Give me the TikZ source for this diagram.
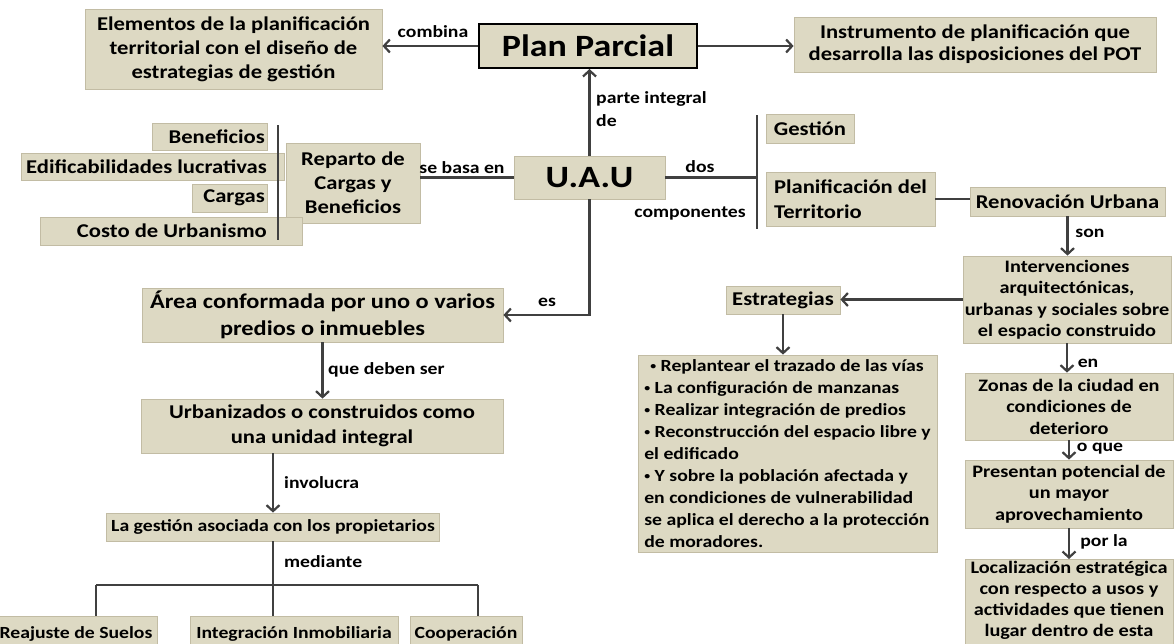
\documentclass[tikz,border=0pt]{standalone}
\usepackage{fontspec}
\setmainfont{Carlito}[FakeStretch=1.16]
\usetikzlibrary{arrows.meta}
\definecolor{boxfill}{HTML}{DDD9C3}
\definecolor{boxline}{HTML}{C2BCA4}
\definecolor{lnk}{HTML}{404040}
\newcommand{\myfs}[2]{\fontsize{#1}{#2}\selectfont}
\newcommand{\mybul}{\raisebox{0.12em}{\scalebox{0.6}{•}}\ }
\begin{document}
\begin{tikzpicture}[x=1pt,y=-1pt,
  box/.style={draw=boxline, fill=boxfill, line width=0.8pt, inner sep=0pt, align=center, text=black, font=\bfseries\myfs{19.5}{24}},
  big/.style={font=\bfseries\myfs{31}{36}},
  rbox/.style={box, font=\bfseries\myfs{17.5}{21.5}},
  bbox/.style={box, font=\bfseries\myfs{17}{21}},
  txt/.style={inner sep=0pt, text=black, align=center, font=\bfseries\myfs{19.5}{24}},
  lbl/.style={inner sep=0pt, text=black, font=\bfseries\myfs{17}{21}},
  conn/.style={draw=lnk, line width=2.2pt},
  arr/.style={conn, -{Straight Barb[length=6pt,width=13pt]}}
]
\useasboundingbox (0,0) rectangle (1176,643);
\fill[white] (0,0) rectangle (1176,643);
\clip (0,0) rectangle (1176,643);

% top row
\node[box, minimum width=297, minimum height=80] (e1) at (233.5,49) {Elementos de la planificación\\territorial con el diseño de\\estrategias de gestión};
\node[box, big, draw=black, line width=2pt, minimum width=218, minimum height=44] (pp) at (588,46) {Plan Parcial};
\node[box, font=\bfseries\myfs{19.5}{22}, minimum width=362, minimum height=55] (ins) at (975,44.5) {Instrumento de planificación que\\desarrolla las disposiciones del POT};
\draw[arr] (pp.west) -- (pp.west -| e1.east);
\node[lbl] (lcomb) at (433,32) {combina};
\draw[arr] (pp.east) -- (pp.east -| ins.west);

% U.A.U
\node[box, big, minimum width=151, minimum height=43] (uau) at (589.5,177.5) {U.A.U};
\draw[arr] (uau.north) -- (uau.north |- pp.south);
\node[lbl, anchor=west] (lpi) at (596,99) {parte integral};
\node[lbl, anchor=west] (lde) at (596,121) {de};

% Reparto and left list
\node[box, minimum width=134, minimum height=80] (rep) at (353,183) {Reparto de\\Cargas y\\Beneficios};
\draw[conn] (uau.west) -- (uau.west -| rep.east);
\node[lbl] (lbasa) at (462,168) {se basa en};
\node[box, minimum width=115, minimum height=27] (ben) at (209.5,136.5) {};
\node[txt, anchor=east] (bentx) at (265,136.5) {Beneficios};
\node[box, minimum width=263, minimum height=27] (edi) at (152.5,166.5) {};
\node[txt, anchor=east] (editx) at (267,166.5) {Edificabilidades lucrativas};
\node[box, minimum width=75, minimum height=28] (car) at (229.5,198) {};
\node[txt, anchor=east] (cartx) at (265,198) {Cargas};
\node[box, minimum width=262, minimum height=28] (cos) at (171,231) {};
\node[txt, anchor=east] (costx) at (267,231) {Costo de Urbanismo};
\coordinate (b1t) at (278,125);
\coordinate (b1b) at (278,240);
\draw[conn] (b1t) -- (b1b);

% dos componentes
\coordinate (b2t) at (757,115);
\coordinate (b2b) at (757,229);
\draw[conn] (uau.east) -- (uau.east -| b2t);
\draw[conn] (b2t) -- (b2b);
\node[lbl] (ldos) at (700,167) {dos};
\node[lbl] (lcomp) at (690,213) {componentes};
\node[box, minimum width=88, minimum height=29] (gest) at (810,128.5) {Gestión};
\node[box, font=\bfseries\myfs{19.5}{25}, align=left, minimum width=169, minimum height=54] (plan) at (850.5,199) {Planificación del\\Territorio};
\node[box, minimum width=195, minimum height=29] (ren) at (1067.5,201.5) {Renovación Urbana};
\draw[conn] (plan.east) -- (plan.east -| ren.west);

% right column
\node[rbox, minimum width=208, minimum height=87] (int) at (1067,299.5) {Intervenciones\\arquitectónicas,\\urbanas y sociales sobre\\el espacio construido};
\draw[arr] (ren.south) -- (ren.south |- int.north);
\node[lbl] (lson) at (1090,233) {son};
\node[rbox, minimum width=208, minimum height=67] (zon) at (1069,406.5) {Zonas de la ciudad en\\condiciones de\\deterioro};
\draw[arr] (int.south) -- (int.south |- zon.north);
\node[lbl] (len) at (1088,363) {en};
\node[rbox, minimum width=208, minimum height=68] (pre) at (1069,494) {Presentan potencial de\\un mayor\\aprovechamiento};
\draw[arr] (zon.south) -- (zon.south |- pre.north);
\node[lbl] (loque) at (1100,449) {o que};
\node[rbox, anchor=north, minimum width=208, minimum height=100] (loc) at (1069,559) {};
\node[txt, font=\bfseries\myfs{17.5}{21}] (loctx) at (1069,600) {Localización estratégica\\con respecto a usos y\\actividades que tienen\\lugar dentro de esta};
\draw[arr] (pre.south) -- (pre.south |- loc.north);
\node[lbl] (lpor) at (1104,542) {por la};

% estrategias
\node[box, minimum width=114, minimum height=28] (est) at (783,300) {Estrategias};
\draw[arr] (int.west) -- (int.west -| est.east);
\node[box, font=\bfseries\myfs{17}{22}, align=left, minimum width=299, minimum height=197] (lst) at (787.5,453.5) {\hspace*{6pt}\mybul Replantear el trazado de las vías\\\mybul La configuración de manzanas\\\mybul Realizar integración de predios\\\mybul Reconstrucción del espacio libre y\\el edificado\\\mybul Y sobre la población afectada y\\en condiciones de vulnerabilidad\\se aplica el derecho a la protección\\de moradores.};
\draw[arr] (est.south) -- (est.south |- lst.north);

% left lower chain
\node[box, font=\bfseries\myfs{21}{26.5}, minimum width=361, minimum height=54] (area) at (322.5,315) {Área conformada por uno o varios\\predios o inmuebles};
\draw[arr] (uau.south) |- (area.east);
\node[lbl] (les) at (547,302) {es};
\node[box, font=\bfseries\myfs{19.5}{25}, minimum width=362, minimum height=54] (urb) at (322,426) {Urbanizados o construidos como\\una unidad integral};
\draw[arr] (area.south) -- (area.south |- urb.north);
\node[lbl, anchor=west] (lque) at (328,370) {que deben ser};
\node[bbox, minimum width=333, minimum height=28] (ges2) at (273,527) {La gestión asociada con los propietarios};
\draw[arr] (ges2.north |- urb.south) -- (ges2.north);
\node[lbl, anchor=west] (linv) at (284,483) {involucra};
\node[lbl, anchor=west] (lmed) at (284,562) {mediante};
\node[bbox, minimum width=163, minimum height=36] (rea) at (76,634) {Reajuste de Suelos};
\node[bbox, minimum width=208, minimum height=36] (inm) at (294,634) {Integración Inmobiliaria};
\node[bbox, minimum width=112, minimum height=36] (coo) at (466,634) {Cooperación};
\coordinate (bl) at (96,585);
\coordinate (br) at (478,585);
\draw[conn] (ges2.south) -- (ges2.south |- inm.north);
\draw[conn] (bl) -- (br);
\draw[conn] (bl) -- (bl |- rea.north);
\draw[conn] (br) -- (br |- coo.north);
\end{tikzpicture}
\end{document}
